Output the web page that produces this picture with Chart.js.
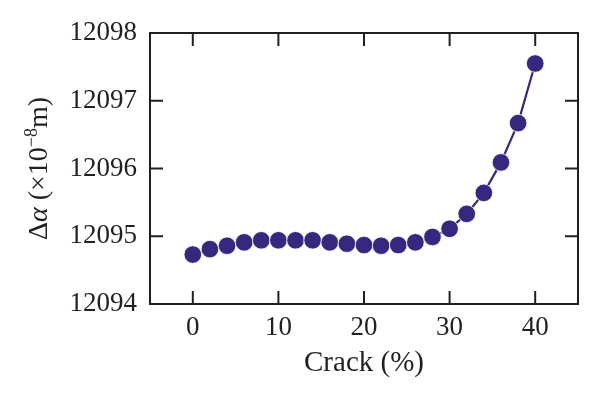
<!DOCTYPE html>
<html>
<head>
<meta charset="utf-8">
<script src="https://cdn.jsdelivr.net/npm/chart.js@4/dist/chart.umd.min.js"></script>
<style>
html,body{margin:0;padding:0;background:#fff;}
#wrap{width:600px;height:398px;}
</style>
</head>
<body>
<div id="wrap"><canvas id="c" width="600" height="398"></canvas></div>
<script>
const crack = [0,2,4,6,8,10,12,14,16,18,20,22,24,26,28,30,32,34,36,38,40];
const deltaAlpha = [12094.73,12094.81,12094.86,12094.91,12094.94,12094.94,12094.94,12094.94,12094.91,12094.89,12094.87,12094.86,12094.87,12094.91,12094.99,12095.11,12095.33,12095.64,12096.09,12096.67,12097.55];
const xTicks = [0,10,20,30,40];
const yTicks = [12094,12095,12096,12097,12098];
const xTitle = 'Crack (%)';
// y title pieces: Δα (×10⁻⁸m)
const yTitleParts = [
  {t: 'Δ', style: ''},
  {t: 'α', style: 'italic '},
  {t: ' (×10', style: ''},
  {t: '−8', style: '', sup: true},
  {t: 'm)', style: ''}
];

const INK = '#231f20';
const MARK = '#35287f';
const FONT = "'Liberation Serif', 'DejaVu Serif', serif";

const framePlugin = {
  id: 'frame',
  beforeDatasetsDraw(chart) {
    const {ctx, chartArea: {left, right, top, bottom}, scales: {x, y}} = chart;
    ctx.save();
    ctx.strokeStyle = INK;
    ctx.lineWidth = 2;
    ctx.strokeRect(left, top, right - left, bottom - top);
    const L = 13;
    ctx.beginPath();
    xTicks.forEach(v => {
      const px = x.getPixelForValue(v);
      ctx.moveTo(px, bottom); ctx.lineTo(px, bottom - L);
      ctx.moveTo(px, top); ctx.lineTo(px, top + L);
    });
    yTicks.forEach(v => {
      const py = y.getPixelForValue(v);
      ctx.moveTo(left, py); ctx.lineTo(left + L, py);
      ctx.moveTo(right, py); ctx.lineTo(right - L, py);
    });
    ctx.stroke();
    ctx.restore();
  },
  afterDraw(chart) {
    const {ctx, chartArea: {top, bottom}} = chart;
    const size = 28, supSize = 18;
    ctx.save();
    ctx.fillStyle = INK;
    ctx.textBaseline = 'alphabetic';
    const widths = yTitleParts.map(p => {
      ctx.font = p.style + (p.sup ? supSize : size) + 'px ' + FONT;
      return ctx.measureText(p.t).width;
    });
    const total = widths.reduce((a, b) => a + b, 0);
    const cy = (top + bottom) / 2;
    ctx.translate(47, cy);
    ctx.rotate(-Math.PI / 2);
    let xpos = -total / 2;
    yTitleParts.forEach((p, i) => {
      ctx.font = p.style + (p.sup ? supSize : size) + 'px ' + FONT;
      ctx.fillText(p.t, xpos, p.sup ? -10 : 0);
      xpos += widths[i];
    });
    ctx.restore();
  }
};

new Chart(document.getElementById('c'), {
  type: 'line',
  data: {
    datasets: [{
      data: crack.map((c, i) => ({x: c, y: deltaAlpha[i]})),
      borderColor: MARK,
      borderWidth: 2.2,
      backgroundColor: MARK,
      pointBackgroundColor: MARK,
      pointBorderColor: '#ffffff',
      pointBorderWidth: 0.8,
      pointRadius: 8.8,
      tension: 0
    }]
  },
  options: {
    responsive: false,
    animation: false,
    devicePixelRatio: 1,
    layout: {padding: {left: 0, right: 22, top: 33, bottom: 0}},
    plugins: {legend: {display: false}, tooltip: {enabled: false}},
    scales: {
      x: {
        type: 'linear',
        min: -5, max: 45,
        afterBuildTicks: s => { s.ticks = xTicks.map(v => ({value: v})); },
        afterFit: s => { s.height = 94; },
        grid: {display: false, drawTicks: false},
        border: {display: false},
        ticks: {color: INK, font: {family: FONT, size: 27}, padding: 8, maxRotation: 0, callback: v => String(v)},
        title: {display: true, text: xTitle, color: INK, font: {family: FONT, size: 29}, padding: {top: 0, bottom: 17}}
      },
      y: {
        type: 'linear',
        min: 12094, max: 12098,
        afterBuildTicks: s => { s.ticks = yTicks.map(v => ({value: v})); },
        afterFit: s => { s.width = 150; },
        grid: {display: false, drawTicks: false},
        border: {display: false},
        ticks: {color: INK, font: {family: FONT, size: 27}, padding: 13, callback: v => String(v)},
        title: {display: false}
      }
    }
  },
  plugins: [framePlugin]
});
</script>
</body>
</html>
